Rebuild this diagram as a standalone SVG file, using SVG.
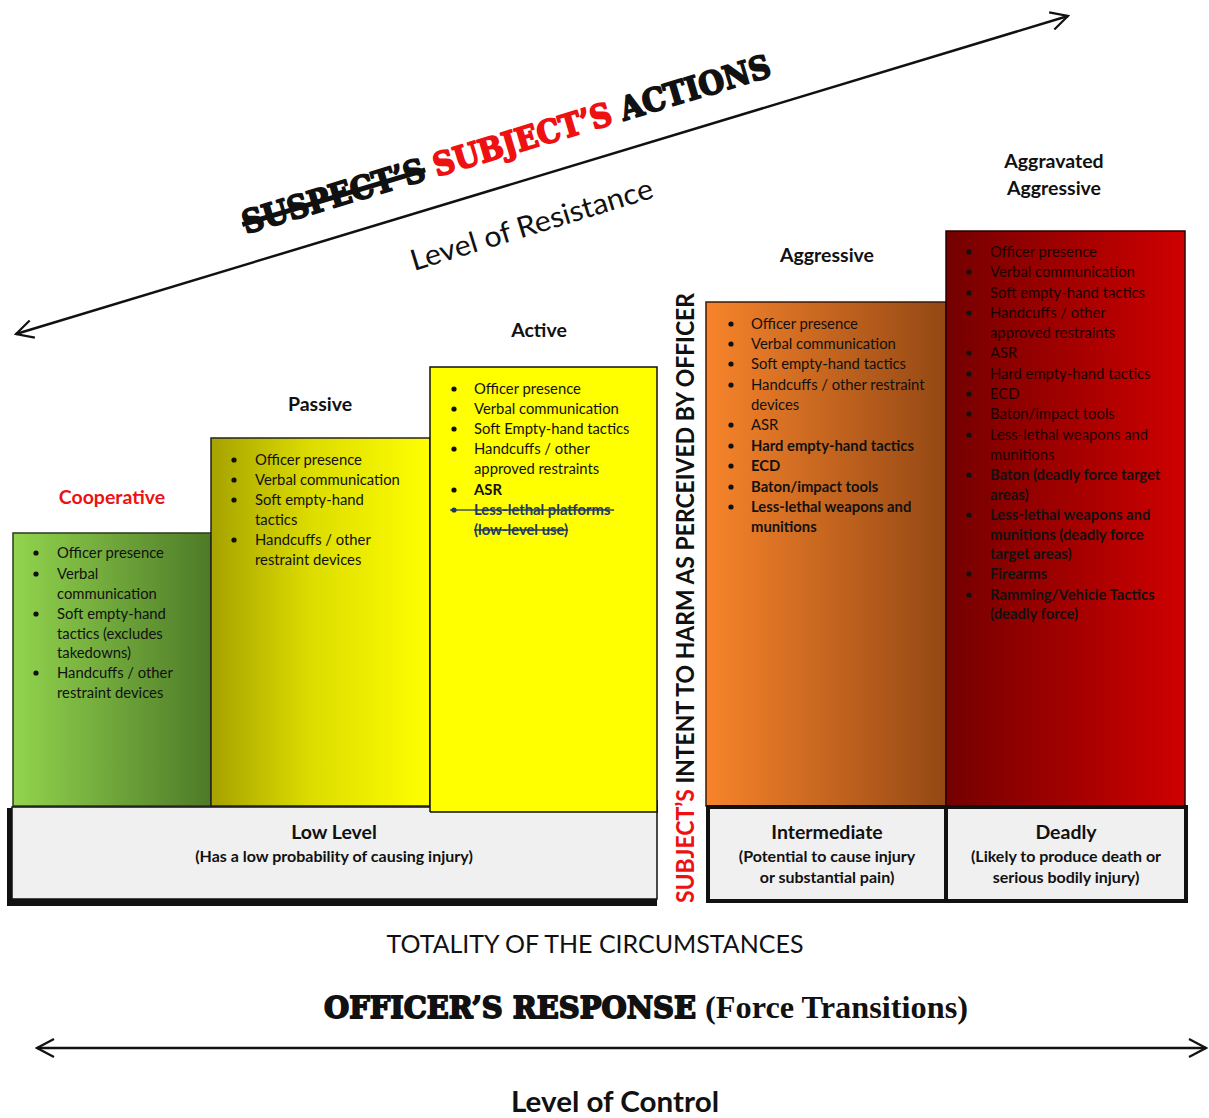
<svg xmlns="http://www.w3.org/2000/svg" width="1209" height="1118" viewBox="0 0 1209 1118">
  <style>
    .body { font-family: Lato, "Open Sans", "Liberation Sans", sans-serif; font-size: 14.8px; fill: #111; }
    .b { font-weight: bold; }
    .head { font-family: Lato, "Open Sans", "Liberation Sans", sans-serif; font-size: 19.5px; font-weight: bold; fill: #111; text-anchor: middle; }
    .cap { font-family: Lato, "Open Sans", "Liberation Sans", sans-serif; font-size: 16px; font-weight: bold; fill: #111; text-anchor: middle; }
    .heavy { font-family: "DejaVu Serif", "Liberation Serif", serif; font-weight: bold; stroke-width: 1.8; stroke-linejoin: round; }
    .dot { fill: #111; }
    .strike { font-weight: bold; fill: #1f3864; text-decoration: line-through; }
    .dark { fill: #1c0000; }
    .arrow { stroke: #111; stroke-width: 2.5; fill: none; }
  </style>
  <defs>
    <linearGradient id="gGreen" x1="0" y1="0" x2="1" y2="0">
      <stop offset="0" stop-color="#92d44e"/>
      <stop offset="1" stop-color="#4d7a27"/>
    </linearGradient>
    <linearGradient id="gOlive" x1="0" y1="0" x2="1" y2="0">
      <stop offset="0" stop-color="#a6a200"/>
      <stop offset="0.45" stop-color="#dcdc00"/>
      <stop offset="1" stop-color="#ffff00"/>
    </linearGradient>
    <linearGradient id="gOrange" x1="0" y1="0" x2="1" y2="0">
      <stop offset="0" stop-color="#f8842b"/>
      <stop offset="1" stop-color="#944814"/>
    </linearGradient>
    <linearGradient id="gRed" x1="0" y1="0" x2="1" y2="0">
      <stop offset="0" stop-color="#740000"/>
      <stop offset="1" stop-color="#cf0000"/>
    </linearGradient>
    <marker id="openHead" viewBox="0 0 20 20" refX="18" refY="10" markerWidth="20" markerHeight="20" markerUnits="userSpaceOnUse" orient="auto-start-reverse">
      <path d="M1,1 L18,10 L1,19" fill="none" stroke="#111" stroke-width="2.2"/>
    </marker>
  </defs>

  <rect width="1209" height="1118" fill="#ffffff"/>

  <!-- connectors: resistance scale and control scale -->
  <g id="connectors">
    <line class="arrow" x1="16" y1="334" x2="1068" y2="16" marker-start="url(#openHead)" marker-end="url(#openHead)"/>
    <line class="arrow" x1="37" y1="1048" x2="1206" y2="1048" marker-start="url(#openHead)" marker-end="url(#openHead)"/>
  </g>

  <!-- rotated title along the resistance scale -->
  <g id="title-actions" transform="translate(246,234) rotate(-16.7)">
    <text class="heavy" x="0" y="0" font-size="32" textLength="550" lengthAdjust="spacingAndGlyphs"><tspan fill="#111" stroke="#111" text-decoration="line-through">SUSPECT’S</tspan> <tspan fill="#ee1111" stroke="#ee1111">SUBJECT’S</tspan> <tspan fill="#111" stroke="#111">ACTIONS</tspan></text>
  </g>
  <g id="title-resistance" transform="translate(414,271) rotate(-17)">
    <text x="0" y="0" font-family="Lato, 'Open Sans', sans-serif" font-size="29" fill="#111" textLength="252" lengthAdjust="spacingAndGlyphs">Level of Resistance</text>
  </g>

  <!-- Cooperative -->
  <g id="cooperative">
    <text class="head" x="112" y="504" style="fill:#ee1111">Cooperative</text>
    <rect x="13" y="533" width="198" height="273" fill="url(#gGreen)" stroke="#2a3a1a" stroke-width="1.5"/>
    <circle class="dot" cx="36" cy="553" r="2.6"/>
    <circle class="dot" cx="36" cy="574" r="2.6"/>
    <circle class="dot" cx="36" cy="614" r="2.6"/>
    <circle class="dot" cx="36" cy="673" r="2.6"/>
    <text class="body">
      <tspan x="57" y="558">Officer presence</tspan>
      <tspan x="57" y="579">Verbal</tspan>
      <tspan x="57" y="599">communication</tspan>
      <tspan x="57" y="619">Soft empty-hand</tspan>
      <tspan x="57" y="639">tactics (excludes</tspan>
      <tspan x="57" y="658">takedowns)</tspan>
      <tspan x="57" y="678">Handcuffs / other</tspan>
      <tspan x="57" y="698">restraint devices</tspan>
    </text>
  </g>

  <!-- Passive -->
  <g id="passive">
    <text class="head" x="320" y="411">Passive</text>
    <rect x="211" y="438" width="219" height="368" fill="url(#gOlive)" stroke="#222" stroke-width="1.5"/>
    <circle class="dot" cx="234" cy="460" r="2.6"/>
    <circle class="dot" cx="234" cy="480" r="2.6"/>
    <circle class="dot" cx="234" cy="500" r="2.6"/>
    <circle class="dot" cx="234" cy="540" r="2.6"/>
    <text class="body">
      <tspan x="255" y="465">Officer presence</tspan>
      <tspan x="255" y="485">Verbal communication</tspan>
      <tspan x="255" y="505">Soft empty-hand</tspan>
      <tspan x="255" y="525">tactics</tspan>
      <tspan x="255" y="545">Handcuffs / other</tspan>
      <tspan x="255" y="565">restraint devices</tspan>
    </text>
  </g>

  <!-- Active -->
  <g id="active">
    <text class="head" x="539" y="337">Active</text>
    <rect x="430" y="367" width="227" height="445" fill="#ffff00" stroke="#111" stroke-width="1.5"/>
    <circle class="dot" cx="454" cy="389" r="2.6"/>
    <circle class="dot" cx="454" cy="409" r="2.6"/>
    <circle class="dot" cx="454" cy="429" r="2.6"/>
    <circle class="dot" cx="454" cy="449" r="2.6"/>
    <circle class="dot" cx="454" cy="490" r="2.6"/>
    <circle cx="454" cy="510" r="2.6" fill="#1f3864"/>
    <line x1="450" y1="510" x2="474" y2="510" stroke="#1f3864" stroke-width="1.3"/>
    <text class="body">
      <tspan x="474" y="394">Officer presence</tspan>
      <tspan x="474" y="414">Verbal communication</tspan>
      <tspan x="474" y="434">Soft Empty-hand tactics</tspan>
      <tspan x="474" y="454">Handcuffs / other</tspan>
      <tspan x="474" y="474">approved restraints</tspan>
      <tspan class="b" x="474" y="495">ASR</tspan>
    </text>
    <text class="body strike">
      <tspan x="474" y="515">Less-lethal platforms</tspan>
      <tspan x="474" y="535">(low-level use)</tspan>
    </text>
  </g>

  <!-- vertical intent label -->
  <g id="intent-label" transform="translate(694,903) rotate(-90)">
    <text x="0" y="0" font-family="Lato, 'Open Sans', sans-serif" font-weight="bold" font-size="24" fill="#111" textLength="610" lengthAdjust="spacingAndGlyphs"><tspan fill="#ee1111">SUBJECT’S</tspan> INTENT TO HARM AS PERCEIVED BY OFFICER</text>
  </g>

  <!-- Aggressive -->
  <g id="aggressive">
    <text class="head" x="827" y="262">Aggressive</text>
    <rect x="706" y="302" width="240" height="504" fill="url(#gOrange)" stroke="#3a1a08" stroke-width="1.5"/>
    <circle class="dot" cx="731" cy="324" r="2.6"/>
    <circle class="dot" cx="731" cy="344" r="2.6"/>
    <circle class="dot" cx="731" cy="364" r="2.6"/>
    <circle class="dot" cx="731" cy="385" r="2.6"/>
    <circle class="dot" cx="731" cy="425" r="2.6"/>
    <circle class="dot" cx="731" cy="446" r="2.6"/>
    <circle class="dot" cx="731" cy="466" r="2.6"/>
    <circle class="dot" cx="731" cy="487" r="2.6"/>
    <circle class="dot" cx="731" cy="507" r="2.6"/>
    <text class="body">
      <tspan x="751" y="329">Officer presence</tspan>
      <tspan x="751" y="349">Verbal communication</tspan>
      <tspan x="751" y="369">Soft empty-hand tactics</tspan>
      <tspan x="751" y="390">Handcuffs / other restraint</tspan>
      <tspan x="751" y="410">devices</tspan>
      <tspan x="751" y="430">ASR</tspan>
      <tspan class="b" x="751" y="451">Hard empty-hand tactics</tspan>
      <tspan class="b" x="751" y="471">ECD</tspan>
      <tspan class="b" x="751" y="492">Baton/impact tools</tspan>
      <tspan class="b" x="751" y="512">Less-lethal weapons and</tspan>
      <tspan class="b" x="751" y="532">munitions</tspan>
    </text>
  </g>

  <!-- Aggravated Aggressive -->
  <g id="aggravated-aggressive">
    <text class="head" x="1054" y="168">Aggravated</text>
    <text class="head" x="1054" y="195">Aggressive</text>
    <rect x="946" y="231" width="239" height="575" fill="url(#gRed)" stroke="#2a0000" stroke-width="1.5"/>
    <circle class="dot" cx="969" cy="252" r="2.6"/>
    <circle class="dot" cx="969" cy="272" r="2.6"/>
    <circle class="dot" cx="969" cy="293" r="2.6"/>
    <circle class="dot" cx="969" cy="313" r="2.6"/>
    <circle class="dot" cx="969" cy="353" r="2.6"/>
    <circle class="dot" cx="969" cy="374" r="2.6"/>
    <circle class="dot" cx="969" cy="394" r="2.6"/>
    <circle class="dot" cx="969" cy="414" r="2.6"/>
    <circle class="dot" cx="969" cy="435" r="2.6"/>
    <circle class="dot" cx="969" cy="475" r="2.6"/>
    <circle class="dot" cx="969" cy="515" r="2.6"/>
    <circle class="dot" cx="969" cy="574" r="2.6"/>
    <circle class="dot" cx="969" cy="595" r="2.6"/>
    <text class="body dark">
      <tspan x="990" y="257">Officer presence</tspan>
      <tspan x="990" y="277">Verbal communication</tspan>
      <tspan x="990" y="298">Soft empty-hand tactics</tspan>
      <tspan x="990" y="318">Handcuffs / other</tspan>
      <tspan x="990" y="338">approved restraints</tspan>
      <tspan x="990" y="358">ASR</tspan>
      <tspan x="990" y="379">Hard empty-hand tactics</tspan>
      <tspan x="990" y="399">ECD</tspan>
      <tspan x="990" y="419">Baton/impact tools</tspan>
      <tspan x="990" y="440">Less-lethal  weapons and</tspan>
      <tspan x="990" y="460">munitions</tspan>
    </text>
    <text class="body b">
      <tspan x="990" y="480">Baton (deadly force target</tspan>
      <tspan x="990" y="500">areas)</tspan>
      <tspan x="990" y="520">Less-lethal  weapons and</tspan>
      <tspan x="990" y="540">munitions (deadly force</tspan>
      <tspan x="990" y="559">target areas)</tspan>
      <tspan x="990" y="579">Firearms</tspan>
      <tspan x="990" y="600">Ramming/Vehicle Tactics</tspan>
      <tspan x="990" y="619">(deadly force)</tspan>
    </text>
  </g>

  <!-- force level bands -->
  <g id="low-level">
    <rect x="7" y="808" width="650" height="98" fill="#111"/>
    <rect x="12" y="807" width="645" height="92" fill="#f0f0f0" stroke="#111" stroke-width="1.5"/>
    <text class="head" x="334" y="839">Low Level</text>
    <text class="cap" x="334" y="862">(Has a low probability of causing injury)</text>
  </g>
  <!-- yellow column sits over the top edge of the low band -->
  <rect x="430" y="800" width="227" height="12" fill="#ffff00"/>
  <line x1="430" y1="812" x2="657" y2="812" stroke="#111" stroke-width="1.5"/>
  <line x1="657" y1="800" x2="657" y2="812" stroke="#111" stroke-width="1.5"/>
  <line x1="430" y1="800" x2="430" y2="812" stroke="#111" stroke-width="1.5"/>

  <g id="intermediate">
    <rect x="708" y="807" width="238" height="94" fill="#f0f0f0" stroke="#111" stroke-width="4"/>
    <text class="head" x="827" y="839">Intermediate</text>
    <text class="cap" x="827" y="862">(Potential to cause injury</text>
    <text class="cap" x="827" y="883">or substantial pain)</text>
  </g>
  <g id="deadly">
    <rect x="946" y="807" width="240" height="94" fill="#f0f0f0" stroke="#111" stroke-width="4"/>
    <text class="head" x="1066" y="839">Deadly</text>
    <text class="cap" x="1066" y="862">(Likely to produce death or</text>
    <text class="cap" x="1066" y="883">serious bodily injury)</text>
  </g>

  <!-- bottom captions -->
  <g id="totality">
    <text x="595" y="953" font-family="Lato, 'Open Sans', sans-serif" font-size="25" fill="#111" text-anchor="middle" textLength="417" lengthAdjust="spacingAndGlyphs">TOTALITY OF THE CIRCUMSTANCES</text>
  </g>
  <g id="officer-response">
    <text class="heavy" x="324" y="1018" font-size="30" fill="#111" stroke="#111" textLength="372" lengthAdjust="spacingAndGlyphs">OFFICER’S RESPONSE</text>
    <text x="705" y="1018" font-family="'Liberation Serif', serif" font-weight="bold" font-size="31" fill="#111" textLength="263" lengthAdjust="spacingAndGlyphs">(Force Transitions)</text>
  </g>
  <g id="level-of-control">
    <text x="615" y="1112" font-family="Lato, 'Open Sans', sans-serif" font-weight="bold" font-size="28" fill="#111" text-anchor="middle" textLength="208" lengthAdjust="spacingAndGlyphs">Level of Control</text>
  </g>
</svg>
